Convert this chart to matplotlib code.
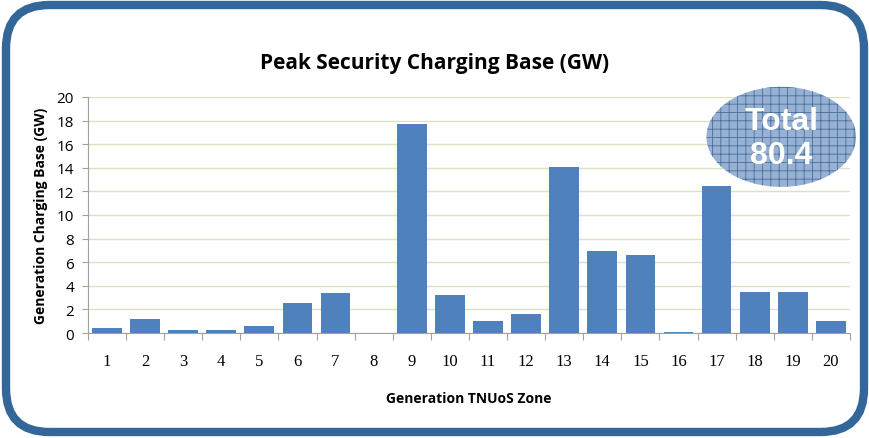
import numpy as np
import matplotlib
matplotlib.use('Agg')
from matplotlib import pyplot as plt
from matplotlib.patches import FancyBboxPatch, Ellipse

zones = [str(i) for i in range(1, 21)]
charging_base = [0.45, 1.2, 0.3, 0.3, 0.6, 2.55, 3.4, 0.0, 17.7, 3.2,
                 1.0, 1.6, 14.05, 6.95, 6.6, 0.1, 12.45, 3.45, 3.45, 1.05]
total_label = 'Total\n80.4'

plt.rcParams['hatch.linewidth'] = 0.6

fig = plt.figure(figsize=(8.7, 4.39), dpi=100)
ax = fig.add_axes([0.101, 0.239, 0.876, 0.538])

x = np.arange(1, len(zones) + 1)
ax.bar(x, charging_base, width=0.78, color='#4f81bd', zorder=3)

ax.set_xlim(0.5, len(zones) + 0.5)
ax.set_ylim(0, 20)
ax.set_yticks(np.arange(0, 21, 2))
ax.yaxis.grid(True, color='#d7e4bd', linewidth=1.0, zorder=0)

# excel style: ticks between categories, labels centred
ax.set_xticks(np.arange(0.5, len(zones) + 1, 1.0))
ax.set_xticklabels([])
ax.set_xticks(x, minor=True)
ax.set_xticklabels(zones, minor=True, fontfamily='Liberation Serif', fontsize=12)
ax.tick_params(axis='x', which='minor', length=0, pad=14)
ax.tick_params(axis='x', which='major', length=5, color='#a0a0a0')
ax.tick_params(axis='y', length=4, color='#a0a0a0', labelsize=11, pad=6)
for lab in ax.get_yticklabels():
    lab.set_fontfamily('Open Sans')

for side in ['top', 'right']:
    ax.spines[side].set_visible(False)
ax.spines['left'].set_color('#a0a0a0')
ax.spines['bottom'].set_color('#a0a0a0')

ax.set_ylabel('Generation Charging Base (GW)', fontsize=10, fontweight='bold',
              fontfamily='Open Sans', labelpad=6)
ax.set_xlabel('Generation TNUoS Zone', fontsize=10, fontweight='bold',
              fontfamily='Open Sans', labelpad=16)
fig.text(0.5, 0.855, 'Peak Security Charging Base (GW)', ha='center', va='center',
         fontsize=15, fontweight='bold', fontfamily='Open Sans')

# total badge
ell = Ellipse((0.898, 0.686), 0.172, 0.228, transform=fig.transFigure,
              facecolor='#98b0d2', edgecolor='#44709f', hatch='++', linewidth=0,
              zorder=5)
fig.patches.append(ell)
fig.text(0.898, 0.683, total_label, ha='center', va='center', color='white',
         fontsize=23, fontweight='bold', fontfamily='Liberation Sans',
         linespacing=1.2, zorder=6)

# rounded frame
frame = FancyBboxPatch((6 / 870, 6 / 439), 858 / 870, 427 / 439,
                       boxstyle='round,pad=0,rounding_size=0.05',
                       transform=fig.transFigure, facecolor='none',
                       edgecolor='#336699', linewidth=6, zorder=10,
                       mutation_aspect=870 / 439)
fig.patches.append(frame)

fig.savefig('out.png', dpi=100)
